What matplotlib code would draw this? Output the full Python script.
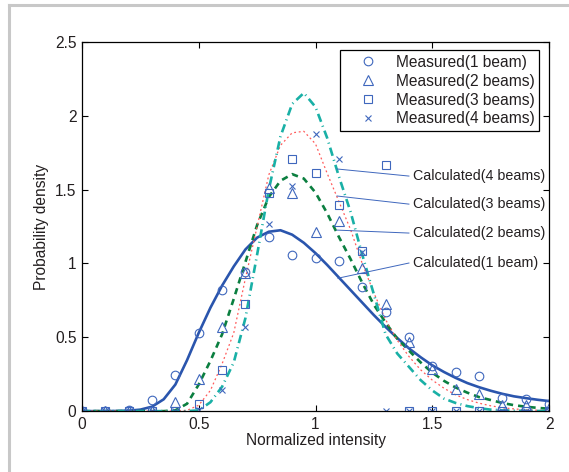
"""Probability density of normalized intensity: measured vs calculated."""

import matplotlib

matplotlib.use("Agg")
import matplotlib.pyplot as plt
from matplotlib.lines import Line2D

plt.rcParams["font.family"] = ["Liberation Sans", "DejaVu Sans"]
plt.rcParams["font.size"] = 11.2

# measured samples (every 0.1)
x_meas = [0.0, 0.1, 0.2, 0.3, 0.4, 0.5, 0.6, 0.7, 0.8, 0.9, 1.0,
          1.1, 1.2, 1.3, 1.4, 1.5, 1.6, 1.7, 1.8, 1.9, 2.0]
meas_1 = [0, 0, 0.01, 0.075, 0.245, 0.53, 0.82, 0.94, 1.18, 1.06, 1.04,
          1.02, 0.84, 0.67, 0.50, 0.305, 0.265, 0.237, 0.09, 0.08, 0.05]
meas_2 = [0, 0, 0, 0, 0.06, 0.22, 0.57, 0.935, 1.51, 1.48, 1.21,
          1.29, 0.97, 0.725, 0.47, 0.285, 0.15, 0.115, 0.04, 0.04, 0.02]
meas_3 = [0, 0, 0, 0, 0, 0.05, 0.28, 0.725, 1.48, 1.71, 1.61,
          1.395, 1.085, 1.67, 0, 0, 0, 0, 0, 0, 0]
meas_4 = [0, 0, 0, 0, 0, 0.01, 0.14, 0.57, 1.27, 1.525, 1.88,
          1.71, 1.08, 0, 0, 0, 0, 0, 0, 0, 0]

# calculated curves (every 0.05)
x_calc = [0.0, 0.05, 0.1, 0.15, 0.2, 0.25, 0.3, 0.35, 0.4, 0.45, 0.5,
          0.55, 0.6, 0.65, 0.7, 0.75, 0.8, 0.85, 0.9, 0.95, 1.0,
          1.05, 1.1, 1.15, 1.2, 1.25, 1.3, 1.35, 1.4, 1.45, 1.5,
          1.55, 1.6, 1.65, 1.7, 1.75, 1.8, 1.85, 1.9, 1.95, 2.0]
calc_1 = [0, 0, 0, 0.001, 0.003, 0.01, 0.03, 0.08, 0.18, 0.345, 0.53,
          0.70, 0.85, 0.98, 1.095, 1.175, 1.215, 1.225, 1.195, 1.14, 1.07,
          0.99, 0.905, 0.82, 0.735, 0.65, 0.57, 0.495, 0.425, 0.365, 0.31,
          0.265, 0.225, 0.19, 0.162, 0.138, 0.117, 0.10, 0.088, 0.077, 0.068]
calc_2 = [0, 0, 0, 0, 0, 0, 0, 0, 0.005, 0.05, 0.18,
          0.34, 0.52, 0.76, 1.01, 1.26, 1.45, 1.56, 1.605, 1.575, 1.48,
          1.34, 1.18, 1.03, 0.87, 0.72, 0.60, 0.49, 0.41, 0.33, 0.26,
          0.205, 0.16, 0.125, 0.095, 0.075, 0.055, 0.04, 0.03, 0.022, 0.016]
calc_3 = [0, 0, 0, 0, 0, 0, 0, 0, 0, 0.005, 0.04,
          0.14, 0.32, 0.53, 0.90, 1.25, 1.60, 1.80, 1.885, 1.895, 1.81,
          1.61, 1.42, 1.23, 1.00, 0.80, 0.62, 0.48, 0.37, 0.28, 0.21,
          0.155, 0.11, 0.078, 0.054, 0.036, 0.023, 0.015, 0.009, 0.006, 0.003]
calc_4 = [0, 0, 0, 0, 0, 0, 0, 0, 0, 0, 0.005,
          0.06, 0.165, 0.33, 0.63, 1.06, 1.50, 1.86, 2.08, 2.155, 2.06,
          1.85, 1.59, 1.35, 1.06, 0.79, 0.52, 0.39, 0.30, 0.21, 0.14,
          0.085, 0.055, 0.034, 0.02, 0.01, 0.005, 0.003, 0.002, 0.001, 0.0]

meas_labels = ["Measured(1 beam)", "Measured(2 beams)",
               "Measured(3 beams)", "Measured(4 beams)"]
calc_labels = ["Calculated(1 beam)", "Calculated(2 beams)",
               "Calculated(3 beams)", "Calculated(4 beams)"]

text_col = "#231f20"
mk_col = "#3f67bd"

fig = plt.figure(figsize=(5.69, 4.72), dpi=100)
ax = fig.add_axes([0.144, 0.129, 0.821, 0.782])

# light grey frame round the figure (top and left only)
fig.add_artist(Line2D([9 / 569, 1], [1 - 5 / 472, 1 - 5 / 472],
                      color="#c8c8c8", lw=2.2, transform=fig.transFigure))
fig.add_artist(Line2D([9 / 569, 9 / 569], [0, 1 - 5 / 472],
                      color="#c8c8c8", lw=2.2, transform=fig.transFigure))

# calculated curves
ax.plot(x_calc, calc_1, color="#2a55ad", lw=1.9, solid_capstyle="butt")
ax.plot(x_calc, calc_2, color="#0b7f40", lw=1.9, linestyle=(0, (2.4, 1.9)))
ax.plot(x_calc, calc_3, color="#ff5a5a", lw=0.9, linestyle=(0, (1.5, 2.2)))
ax.plot(x_calc, calc_4, color="#19b0a6", lw=1.9,
        linestyle=(0, (3.2, 1.6, 0.4, 1.6)))

# measured points
mstyle = dict(linestyle="none", color=mk_col, mfc="none", mew=0.8)
ax.plot(x_meas, meas_1, marker="o", ms=6.2, label=meas_labels[0], **mstyle)
ax.plot(x_meas, meas_2, marker="^", ms=6.8, label=meas_labels[1], **mstyle)
ax.plot(x_meas, meas_3, marker="s", ms=5.2, label=meas_labels[2], **mstyle)
ax.plot(x_meas, meas_4, marker="x", ms=5, label=meas_labels[3], **mstyle)

# leader lines to the curve labels
leaders = [((1.096, 0.90), (1.40, 1.003)),
           ((1.092, 1.226), (1.40, 1.206)),
           ((1.092, 1.457), (1.40, 1.402)),
           ((1.092, 1.64), (1.40, 1.592))]
for lab, (p0, p1) in zip(calc_labels, leaders):
    ax.plot([p0[0], p1[0]], [p0[1], p1[1]], color="#3f67bd", lw=0.7)
    ax.text(p1[0] + 0.018, p1[1], lab, ha="left", va="center",
            color=text_col, fontsize=10.3)

ax.set_xlim(0, 2)
ax.set_ylim(0, 2.5)
ax.set_xticks([0, 0.5, 1, 1.5, 2])
ax.set_xticklabels(["0", "0.5", "1", "1.5", "2"])
ax.set_yticks([0, 0.5, 1, 1.5, 2, 2.5])
ax.set_yticklabels(["0", "0.5", "1", "1.5", "2", "2.5"])
ax.tick_params(direction="in", length=4, width=0.8, top=True, right=True,
               colors="black", labelcolor=text_col, pad=4)
for sp in ax.spines.values():
    sp.set_linewidth(0.9)

ax.set_xlabel("Normalized intensity", color=text_col, labelpad=1)
ax.set_ylabel("Probability density", color=text_col, labelpad=4)

leg = ax.legend(loc="upper right", bbox_to_anchor=(0.979, 0.978),
                borderaxespad=0, numpoints=1, handlelength=3.0,
                handletextpad=0.3, labelspacing=0.25, borderpad=0.3,
                fancybox=False, framealpha=1, edgecolor="black")
leg.get_frame().set_linewidth(0.9)
for t in leg.get_texts():
    t.set_color(text_col)

fig.savefig("out.png", dpi=100)
